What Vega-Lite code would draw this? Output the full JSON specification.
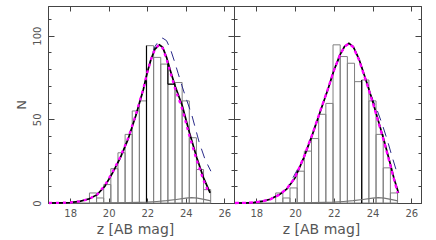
{
  "$schema": "https://vega.github.io/schema/vega-lite/v6.json",
  "padding": {"left": 14, "top": 5, "right": 5, "bottom": 5},
  "spacing": 0,
  "bounds": "flush",
  "config": {
    "view": {"stroke": "#444", "strokeWidth": 1},
    "axis": {
      "labelFont": "DejaVu Sans", "labelFontSize": 10, "labelColor": "#555",
      "titleFont": "DejaVu Sans", "titleFontSize": 14, "titleColor": "#555", "titleFontWeight": "normal",
      "domainColor": "#444", "tickColor": "#444", "grid": false
    }
  },
  "datasets": {
    "bars": [
      {"panel": "L", "lo": 19.00, "hi": 19.37, "n": 6},
      {"panel": "L", "lo": 19.37, "hi": 19.74, "n": 3},
      {"panel": "L", "lo": 19.74, "hi": 20.11, "n": 11},
      {"panel": "L", "lo": 20.11, "hi": 20.48, "n": 20.5},
      {"panel": "L", "lo": 20.48, "hi": 20.85, "n": 30},
      {"panel": "L", "lo": 20.85, "hi": 21.22, "n": 41},
      {"panel": "L", "lo": 21.22, "hi": 21.59, "n": 55},
      {"panel": "L", "lo": 21.59, "hi": 21.96, "n": 61},
      {"panel": "L", "lo": 21.96, "hi": 22.33, "n": 94},
      {"panel": "L", "lo": 22.33, "hi": 22.70, "n": 87},
      {"panel": "L", "lo": 22.70, "hi": 23.07, "n": 83},
      {"panel": "L", "lo": 23.07, "hi": 23.44, "n": 71},
      {"panel": "L", "lo": 23.44, "hi": 23.81, "n": 72},
      {"panel": "L", "lo": 23.81, "hi": 24.18, "n": 61},
      {"panel": "L", "lo": 24.18, "hi": 24.55, "n": 39},
      {"panel": "L", "lo": 24.55, "hi": 24.92, "n": 20},
      {"panel": "L", "lo": 24.92, "hi": 25.29, "n": 8},
      {"panel": "R", "lo": 19.00, "hi": 19.37, "n": 6},
      {"panel": "R", "lo": 19.37, "hi": 19.74, "n": 3},
      {"panel": "R", "lo": 19.74, "hi": 20.11, "n": 9},
      {"panel": "R", "lo": 20.11, "hi": 20.48, "n": 19},
      {"panel": "R", "lo": 20.48, "hi": 20.85, "n": 31},
      {"panel": "R", "lo": 20.85, "hi": 21.22, "n": 38.5},
      {"panel": "R", "lo": 21.22, "hi": 21.59, "n": 53},
      {"panel": "R", "lo": 21.59, "hi": 21.96, "n": 59.5},
      {"panel": "R", "lo": 21.96, "hi": 22.33, "n": 94.5},
      {"panel": "R", "lo": 22.33, "hi": 22.70, "n": 87.5},
      {"panel": "R", "lo": 22.70, "hi": 23.07, "n": 83.5},
      {"panel": "R", "lo": 23.07, "hi": 23.44, "n": 72.5},
      {"panel": "R", "lo": 23.44, "hi": 23.81, "n": 73.5},
      {"panel": "R", "lo": 23.81, "hi": 24.18, "n": 61},
      {"panel": "R", "lo": 24.18, "hi": 24.55, "n": 41},
      {"panel": "R", "lo": 24.55, "hi": 24.92, "n": 21},
      {"panel": "R", "lo": 24.92, "hi": 25.29, "n": 6}
    ],
    "segs": [
      {"panel": "L", "x1": 21.96, "x2": 21.96, "y1": 0, "y2": 94},
      {"panel": "L", "x1": 23.07, "x2": 23.44, "y1": 71, "y2": 71},
      {"panel": "L", "x1": 23.07, "x2": 23.07, "y1": 71, "y2": 83},
      {"panel": "R", "x1": 23.44, "x2": 23.44, "y1": 0, "y2": 73.5}
    ],
    "curves": [
      {"panel": "L", "s": "fit", "m": 16.9, "n": 0},
      {"panel": "L", "s": "fit", "m": 17.5, "n": 0.1},
      {"panel": "L", "s": "fit", "m": 18.0, "n": 0.3},
      {"panel": "L", "s": "fit", "m": 18.5, "n": 1.0},
      {"panel": "L", "s": "fit", "m": 19.0, "n": 2.5},
      {"panel": "L", "s": "fit", "m": 19.4, "n": 5},
      {"panel": "L", "s": "fit", "m": 19.8, "n": 10},
      {"panel": "L", "s": "fit", "m": 20.2, "n": 18},
      {"panel": "L", "s": "fit", "m": 20.6, "n": 27},
      {"panel": "L", "s": "fit", "m": 21.0, "n": 38},
      {"panel": "L", "s": "fit", "m": 21.4, "n": 52},
      {"panel": "L", "s": "fit", "m": 21.8, "n": 68},
      {"panel": "L", "s": "fit", "m": 22.0, "n": 78},
      {"panel": "L", "s": "fit", "m": 22.2, "n": 86},
      {"panel": "L", "s": "fit", "m": 22.4, "n": 92},
      {"panel": "L", "s": "fit", "m": 22.63, "n": 94.5},
      {"panel": "L", "s": "fit", "m": 22.8, "n": 93},
      {"panel": "L", "s": "fit", "m": 23.0, "n": 87},
      {"panel": "L", "s": "fit", "m": 23.2, "n": 79},
      {"panel": "L", "s": "fit", "m": 23.44, "n": 70},
      {"panel": "L", "s": "fit", "m": 23.82, "n": 58},
      {"panel": "L", "s": "fit", "m": 24.19, "n": 42},
      {"panel": "L", "s": "fit", "m": 24.57, "n": 27},
      {"panel": "L", "s": "fit", "m": 24.92, "n": 15},
      {"panel": "L", "s": "fit", "m": 25.26, "n": 6},
      {"panel": "L", "s": "model", "m": 16.9, "n": 0},
      {"panel": "L", "s": "model", "m": 17.5, "n": 0.1},
      {"panel": "L", "s": "model", "m": 18.0, "n": 0.3},
      {"panel": "L", "s": "model", "m": 18.5, "n": 1.0},
      {"panel": "L", "s": "model", "m": 19.0, "n": 2.5},
      {"panel": "L", "s": "model", "m": 19.4, "n": 5},
      {"panel": "L", "s": "model", "m": 19.8, "n": 10.5},
      {"panel": "L", "s": "model", "m": 20.2, "n": 18.5},
      {"panel": "L", "s": "model", "m": 20.6, "n": 27.5},
      {"panel": "L", "s": "model", "m": 21.0, "n": 38.5},
      {"panel": "L", "s": "model", "m": 21.4, "n": 52.5},
      {"panel": "L", "s": "model", "m": 21.8, "n": 68.5},
      {"panel": "L", "s": "model", "m": 22.0, "n": 78},
      {"panel": "L", "s": "model", "m": 22.2, "n": 86},
      {"panel": "L", "s": "model", "m": 22.4, "n": 92},
      {"panel": "L", "s": "model", "m": 22.6, "n": 94.5},
      {"panel": "L", "s": "model", "m": 22.8, "n": 92.5},
      {"panel": "L", "s": "model", "m": 23.0, "n": 86},
      {"panel": "L", "s": "model", "m": 23.2, "n": 78},
      {"panel": "L", "s": "model", "m": 23.44, "n": 68.5},
      {"panel": "L", "s": "model", "m": 23.82, "n": 56},
      {"panel": "L", "s": "model", "m": 24.19, "n": 40},
      {"panel": "L", "s": "model", "m": 24.57, "n": 25.5},
      {"panel": "L", "s": "model", "m": 24.92, "n": 13.5},
      {"panel": "L", "s": "model", "m": 25.2, "n": 6},
      {"panel": "L", "s": "alt", "m": 16.9, "n": 0},
      {"panel": "L", "s": "alt", "m": 17.5, "n": 0.1},
      {"panel": "L", "s": "alt", "m": 18.0, "n": 0.3},
      {"panel": "L", "s": "alt", "m": 18.5, "n": 1.0},
      {"panel": "L", "s": "alt", "m": 19.0, "n": 2.5},
      {"panel": "L", "s": "alt", "m": 19.4, "n": 5},
      {"panel": "L", "s": "alt", "m": 19.8, "n": 10},
      {"panel": "L", "s": "alt", "m": 20.2, "n": 18},
      {"panel": "L", "s": "alt", "m": 20.6, "n": 27},
      {"panel": "L", "s": "alt", "m": 21.0, "n": 38},
      {"panel": "L", "s": "alt", "m": 21.4, "n": 52},
      {"panel": "L", "s": "alt", "m": 21.8, "n": 68},
      {"panel": "L", "s": "alt", "m": 22.0, "n": 78},
      {"panel": "L", "s": "alt", "m": 22.2, "n": 87},
      {"panel": "L", "s": "alt", "m": 22.4, "n": 93.5},
      {"panel": "L", "s": "alt", "m": 22.6, "n": 97},
      {"panel": "L", "s": "alt", "m": 22.8, "n": 98.5},
      {"panel": "L", "s": "alt", "m": 23.0, "n": 97},
      {"panel": "L", "s": "alt", "m": 23.2, "n": 92},
      {"panel": "L", "s": "alt", "m": 23.4, "n": 85},
      {"panel": "L", "s": "alt", "m": 23.6, "n": 77.5},
      {"panel": "L", "s": "alt", "m": 23.8, "n": 70},
      {"panel": "L", "s": "alt", "m": 24.0, "n": 63},
      {"panel": "L", "s": "alt", "m": 24.3, "n": 53},
      {"panel": "L", "s": "alt", "m": 24.7, "n": 36},
      {"panel": "L", "s": "alt", "m": 25.0, "n": 26},
      {"panel": "L", "s": "alt", "m": 25.3, "n": 19},
      {"panel": "L", "s": "contam", "m": 16.9, "n": 0},
      {"panel": "L", "s": "contam", "m": 19.0, "n": 0},
      {"panel": "L", "s": "contam", "m": 20.0, "n": 0.1},
      {"panel": "L", "s": "contam", "m": 21.0, "n": 0.2},
      {"panel": "L", "s": "contam", "m": 22.0, "n": 0.5},
      {"panel": "L", "s": "contam", "m": 22.5, "n": 0.9},
      {"panel": "L", "s": "contam", "m": 23.0, "n": 1.4},
      {"panel": "L", "s": "contam", "m": 23.5, "n": 2.1},
      {"panel": "L", "s": "contam", "m": 24.0, "n": 2.9},
      {"panel": "L", "s": "contam", "m": 24.3, "n": 3.2},
      {"panel": "L", "s": "contam", "m": 24.6, "n": 2.9},
      {"panel": "L", "s": "contam", "m": 25.0, "n": 2.0},
      {"panel": "L", "s": "contam", "m": 25.3, "n": 1.3},
      {"panel": "R", "s": "fit", "m": 16.9, "n": 0},
      {"panel": "R", "s": "fit", "m": 17.5, "n": 0.1},
      {"panel": "R", "s": "fit", "m": 17.85, "n": 0.3},
      {"panel": "R", "s": "fit", "m": 18.3, "n": 1},
      {"panel": "R", "s": "fit", "m": 18.72, "n": 2.2},
      {"panel": "R", "s": "fit", "m": 19.2, "n": 5},
      {"panel": "R", "s": "fit", "m": 19.58, "n": 8.4},
      {"panel": "R", "s": "fit", "m": 20.0, "n": 15},
      {"panel": "R", "s": "fit", "m": 20.45, "n": 27},
      {"panel": "R", "s": "fit", "m": 20.9, "n": 41},
      {"panel": "R", "s": "fit", "m": 21.31, "n": 55},
      {"panel": "R", "s": "fit", "m": 21.7, "n": 68},
      {"panel": "R", "s": "fit", "m": 22.0, "n": 79},
      {"panel": "R", "s": "fit", "m": 22.3, "n": 88},
      {"panel": "R", "s": "fit", "m": 22.55, "n": 93.5},
      {"panel": "R", "s": "fit", "m": 22.78, "n": 95.4},
      {"panel": "R", "s": "fit", "m": 23.0, "n": 93.5},
      {"panel": "R", "s": "fit", "m": 23.3, "n": 86},
      {"panel": "R", "s": "fit", "m": 23.7, "n": 72},
      {"panel": "R", "s": "fit", "m": 24.0, "n": 61},
      {"panel": "R", "s": "fit", "m": 24.3, "n": 49},
      {"panel": "R", "s": "fit", "m": 24.6, "n": 37},
      {"panel": "R", "s": "fit", "m": 24.9, "n": 24},
      {"panel": "R", "s": "fit", "m": 25.1, "n": 15},
      {"panel": "R", "s": "fit", "m": 25.34, "n": 6},
      {"panel": "R", "s": "model", "m": 16.9, "n": 0},
      {"panel": "R", "s": "model", "m": 17.5, "n": 0.1},
      {"panel": "R", "s": "model", "m": 17.85, "n": 0.3},
      {"panel": "R", "s": "model", "m": 18.3, "n": 1},
      {"panel": "R", "s": "model", "m": 18.72, "n": 2.2},
      {"panel": "R", "s": "model", "m": 19.2, "n": 5},
      {"panel": "R", "s": "model", "m": 19.58, "n": 8.6},
      {"panel": "R", "s": "model", "m": 20.0, "n": 15.3},
      {"panel": "R", "s": "model", "m": 20.45, "n": 27.3},
      {"panel": "R", "s": "model", "m": 20.9, "n": 41.3},
      {"panel": "R", "s": "model", "m": 21.31, "n": 55.3},
      {"panel": "R", "s": "model", "m": 21.7, "n": 68.3},
      {"panel": "R", "s": "model", "m": 22.0, "n": 79},
      {"panel": "R", "s": "model", "m": 22.3, "n": 88},
      {"panel": "R", "s": "model", "m": 22.55, "n": 93.5},
      {"panel": "R", "s": "model", "m": 22.78, "n": 95.2},
      {"panel": "R", "s": "model", "m": 23.0, "n": 93.2},
      {"panel": "R", "s": "model", "m": 23.3, "n": 85.5},
      {"panel": "R", "s": "model", "m": 23.7, "n": 71.5},
      {"panel": "R", "s": "model", "m": 24.0, "n": 60.3},
      {"panel": "R", "s": "model", "m": 24.3, "n": 48.3},
      {"panel": "R", "s": "model", "m": 24.6, "n": 36.3},
      {"panel": "R", "s": "model", "m": 24.9, "n": 23.3},
      {"panel": "R", "s": "model", "m": 25.1, "n": 14.5},
      {"panel": "R", "s": "model", "m": 25.3, "n": 6},
      {"panel": "R", "s": "alt", "m": 16.9, "n": 0},
      {"panel": "R", "s": "alt", "m": 17.85, "n": 0.3},
      {"panel": "R", "s": "alt", "m": 18.72, "n": 2.2},
      {"panel": "R", "s": "alt", "m": 19.58, "n": 8.4},
      {"panel": "R", "s": "alt", "m": 20.45, "n": 27},
      {"panel": "R", "s": "alt", "m": 21.31, "n": 55},
      {"panel": "R", "s": "alt", "m": 22.0, "n": 79},
      {"panel": "R", "s": "alt", "m": 22.55, "n": 93.5},
      {"panel": "R", "s": "alt", "m": 22.78, "n": 95.4},
      {"panel": "R", "s": "alt", "m": 23.0, "n": 93.5},
      {"panel": "R", "s": "alt", "m": 23.3, "n": 86},
      {"panel": "R", "s": "alt", "m": 23.7, "n": 72},
      {"panel": "R", "s": "alt", "m": 24.0, "n": 62},
      {"panel": "R", "s": "alt", "m": 24.25, "n": 55},
      {"panel": "R", "s": "alt", "m": 24.5, "n": 47},
      {"panel": "R", "s": "alt", "m": 24.75, "n": 38},
      {"panel": "R", "s": "alt", "m": 25.0, "n": 28},
      {"panel": "R", "s": "alt", "m": 25.29, "n": 17},
      {"panel": "R", "s": "contam", "m": 16.9, "n": 0},
      {"panel": "R", "s": "contam", "m": 19.0, "n": 0},
      {"panel": "R", "s": "contam", "m": 20.0, "n": 0.1},
      {"panel": "R", "s": "contam", "m": 21.0, "n": 0.2},
      {"panel": "R", "s": "contam", "m": 22.0, "n": 0.5},
      {"panel": "R", "s": "contam", "m": 22.5, "n": 0.9},
      {"panel": "R", "s": "contam", "m": 23.0, "n": 1.4},
      {"panel": "R", "s": "contam", "m": 23.5, "n": 2.1},
      {"panel": "R", "s": "contam", "m": 24.0, "n": 2.9},
      {"panel": "R", "s": "contam", "m": 24.3, "n": 3.2},
      {"panel": "R", "s": "contam", "m": 24.6, "n": 2.9},
      {"panel": "R", "s": "contam", "m": 25.0, "n": 2.0},
      {"panel": "R", "s": "contam", "m": 25.3, "n": 1.3}
    ]
  },
  "hconcat": [
    {
      "width": 186, "height": 197,
      "resolve": {"axis": {"x": "independent", "y": "independent"}},
      "layer": [
        {
          "data": {"name": "bars"},
          "transform": [{"filter": "datum.panel === 'L'"}],
          "mark": {"type": "rect", "fill": "white", "fillOpacity": 0, "stroke": "#808080", "strokeWidth": 1},
          "encoding": {
            "x": {"field": "lo", "type": "quantitative", "scale": {"domain": [16.85, 26.5], "nice": false, "zero": false},
                  "axis": {"orient": "bottom", "values": [18, 20, 22, 24, 26], "tickSize": -5, "labelPadding": 10, "title": "z [AB mag]", "titleX": 87, "titlePadding": 4}},
            "x2": {"field": "hi"},
            "y": {"field": "n", "type": "quantitative", "scale": {"domain": [0, 117.7], "nice": false},
                  "axis": {"orient": "left", "values": [0, 10, 20, 30, 40, 50, 60, 70, 80, 90, 100, 110],
                           "labelExpr": "datum.value % 50 === 0 ? datum.label : ''", "labelAngle": -90,
                           "tickSize": {"condition": {"test": "datum.value % 50 === 0", "value": -6}, "value": -3},
                           "labelPadding": 12, "title": "N", "titleFontSize": 13, "titlePadding": 4}},
            "y2": {"datum": 0}
          }
        },
        {
          "data": {"name": "segs"},
          "transform": [{"filter": "datum.panel === 'L'"}],
          "mark": {"type": "rule", "color": "#000", "strokeWidth": 1.2},
          "encoding": {
            "x": {"field": "x1", "type": "quantitative", "axis": {"orient": "top", "values": [18, 20, 22, 24, 26], "tickSize": -5, "labels": false, "title": null}},
            "x2": {"field": "x2"},
            "y": {"field": "y1", "type": "quantitative",
                  "axis": {"orient": "right", "values": [0, 10, 20, 30, 40, 50, 60, 70, 80, 90, 100, 110], "labels": false, "title": null,
                           "tickSize": {"condition": {"test": "datum.value % 50 === 0", "value": -6}, "value": -3}}},
            "y2": {"field": "y2"}
          }
        },
        {
          "data": {"name": "curves"},
          "transform": [{"filter": "datum.panel === 'L' && datum.s === 'contam'"}],
          "mark": {"type": "line", "color": "#777", "strokeWidth": 1.2},
          "encoding": {"x": {"field": "m", "type": "quantitative", "axis": null}, "y": {"field": "n", "type": "quantitative", "axis": null}}
        },
        {
          "data": {"name": "curves"},
          "transform": [{"filter": "datum.panel === 'L' && datum.s === 'alt'"}],
          "mark": {"type": "line", "color": "#2a2a8a", "strokeWidth": 1, "strokeDash": [10, 7]},
          "encoding": {"x": {"field": "m", "type": "quantitative", "axis": null}, "y": {"field": "n", "type": "quantitative", "axis": null}}
        },
        {
          "data": {"name": "curves"},
          "transform": [{"filter": "datum.panel === 'L' && datum.s === 'fit'"}],
          "mark": {"type": "line", "color": "#000", "strokeWidth": 1.7},
          "encoding": {"x": {"field": "m", "type": "quantitative", "axis": null}, "y": {"field": "n", "type": "quantitative", "axis": null}}
        },
        {
          "data": {"name": "curves"},
          "transform": [{"filter": "datum.panel === 'L' && datum.s === 'model'"}],
          "mark": {"type": "line", "color": "#ff00ff", "strokeWidth": 2.3, "strokeDash": [3, 4]},
          "encoding": {"x": {"field": "m", "type": "quantitative", "axis": null}, "y": {"field": "n", "type": "quantitative", "axis": null}}
        }
      ]
    },
    {
      "width": 187, "height": 197,
      "resolve": {"axis": {"x": "independent", "y": "independent"}},
      "layer": [
        {
          "data": {"name": "bars"},
          "transform": [{"filter": "datum.panel === 'R'"}],
          "mark": {"type": "rect", "fill": "white", "fillOpacity": 0, "stroke": "#808080", "strokeWidth": 1},
          "encoding": {
            "x": {"field": "lo", "type": "quantitative", "scale": {"domain": [16.85, 26.5], "nice": false, "zero": false},
                  "axis": {"orient": "bottom", "values": [18, 20, 22, 24, 26], "tickSize": -5, "labelPadding": 10, "title": "z [AB mag]", "titleX": 87, "titlePadding": 4}},
            "x2": {"field": "hi"},
            "y": {"field": "n", "type": "quantitative", "scale": {"domain": [0, 117.7], "nice": false},
                  "axis": {"orient": "left", "values": [0, 10, 20, 30, 40, 50, 60, 70, 80, 90, 100, 110], "labels": false, "title": null,
                           "tickSize": {"condition": {"test": "datum.value % 50 === 0", "value": -6}, "value": -3}}},
            "y2": {"datum": 0}
          }
        },
        {
          "data": {"name": "segs"},
          "transform": [{"filter": "datum.panel === 'R'"}],
          "mark": {"type": "rule", "color": "#000", "strokeWidth": 1.2},
          "encoding": {
            "x": {"field": "x1", "type": "quantitative", "axis": {"orient": "top", "values": [18, 20, 22, 24, 26], "tickSize": -5, "labels": false, "title": null}},
            "x2": {"field": "x2"},
            "y": {"field": "y1", "type": "quantitative",
                  "axis": {"orient": "right", "values": [0, 10, 20, 30, 40, 50, 60, 70, 80, 90, 100, 110], "labels": false, "title": null,
                           "tickSize": {"condition": {"test": "datum.value % 50 === 0", "value": -6}, "value": -3}}},
            "y2": {"field": "y2"}
          }
        },
        {
          "data": {"name": "curves"},
          "transform": [{"filter": "datum.panel === 'R' && datum.s === 'contam'"}],
          "mark": {"type": "line", "color": "#777", "strokeWidth": 1.2},
          "encoding": {"x": {"field": "m", "type": "quantitative", "axis": null}, "y": {"field": "n", "type": "quantitative", "axis": null}}
        },
        {
          "data": {"name": "curves"},
          "transform": [{"filter": "datum.panel === 'R' && datum.s === 'alt'"}],
          "mark": {"type": "line", "color": "#2a2a8a", "strokeWidth": 1, "strokeDash": [10, 7]},
          "encoding": {"x": {"field": "m", "type": "quantitative", "axis": null}, "y": {"field": "n", "type": "quantitative", "axis": null}}
        },
        {
          "data": {"name": "curves"},
          "transform": [{"filter": "datum.panel === 'R' && datum.s === 'fit'"}],
          "mark": {"type": "line", "color": "#000", "strokeWidth": 1.7},
          "encoding": {"x": {"field": "m", "type": "quantitative", "axis": null}, "y": {"field": "n", "type": "quantitative", "axis": null}}
        },
        {
          "data": {"name": "curves"},
          "transform": [{"filter": "datum.panel === 'R' && datum.s === 'model'"}],
          "mark": {"type": "line", "color": "#ff00ff", "strokeWidth": 2.3, "strokeDash": [4, 3]},
          "encoding": {"x": {"field": "m", "type": "quantitative", "axis": null}, "y": {"field": "n", "type": "quantitative", "axis": null}}
        }
      ]
    }
  ]
}
